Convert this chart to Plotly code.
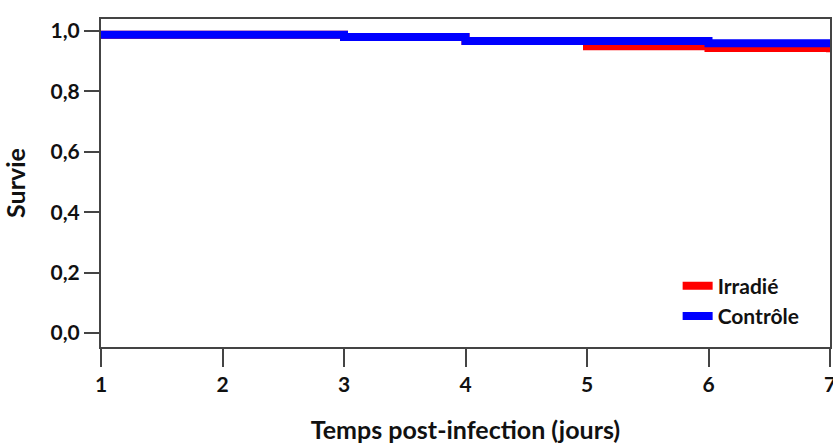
import plotly.graph_objects as go

days_irr = [1, 3, 4, 5, 6, 7]
surv_irr = [0.988, 0.980, 0.967, 0.950, 0.944, 0.930]
days_ctl = [1, 3, 4, 5, 6, 7]
surv_ctl = [0.988, 0.980, 0.967, 0.967, 0.960, 0.960]
x_ticks = [1, 2, 3, 4, 5, 6, 7]
y_ticks = [0.0, 0.2, 0.4, 0.6, 0.8, 1.0]
y_labels = ["0,0", "0,2", "0,4", "0,6", "0,8", "1,0"]

tickfont = dict(family="Lato", size=21, color="#111111", weight="bold")
titlefont = dict(family="Lato", size=25, color="#111111", weight="bold")

fig = go.Figure()
fig.add_trace(go.Scatter(x=days_irr, y=surv_irr, mode="lines", name="Irradié",
                         line=dict(color="#ff0000", width=8, shape="hv")))
fig.add_trace(go.Scatter(x=days_ctl, y=surv_ctl, mode="lines", name="Contrôle",
                         line=dict(color="#0000ff", width=8, shape="hv")))

fig.update_layout(
    width=833, height=444,
    margin=dict(l=101, r=3, t=19, b=97),
    paper_bgcolor="white", plot_bgcolor="white",
    font=tickfont,
    showlegend=True,
    legend=dict(x=0.791, y=0.248, xanchor="left", yanchor="top",
                bgcolor="rgba(0,0,0,0)",
                font=dict(family="Lato", size=21, color="#111111", weight="bold"),
                tracegroupgap=0),
)
fig.update_xaxes(
    range=[1, 7], tickvals=x_ticks, ticks="outside", ticklen=18, tickwidth=2,
    tickcolor="#444444", showline=True, linecolor="#444444", linewidth=2,
    mirror=True, showgrid=False, zeroline=False, ticklabeloverflow="allow",
    automargin=False, tickfont=tickfont,
    title=dict(text="Temps post-infection (jours)", standoff=28, font=titlefont),
)
fig.update_yaxes(
    range=[-0.046, 1.04], tickvals=y_ticks, ticktext=y_labels, ticks="outside",
    ticklen=15, tickwidth=2, tickcolor="#444444", showline=True,
    linecolor="#444444", linewidth=2, mirror=True, showgrid=False, zeroline=False,
    automargin=False, tickfont=tickfont,
    title=dict(text="Survie", standoff=18, font=titlefont),
)

fig.write_html("out.html")
